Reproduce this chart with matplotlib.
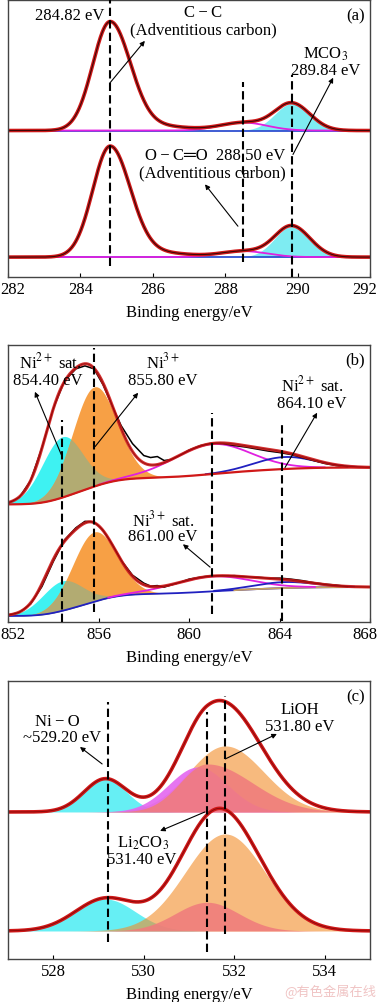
import numpy as np
import matplotlib.pyplot as plt
from matplotlib.transforms import ScaledTranslation

plt.rcParams['font.family'] = ['Liberation Serif', 'DejaVu Sans']
plt.rcParams['mathtext.fontset'] = 'stix'
plt.rcParams['font.size'] = 12

# ---- (a) C 1s : peak centre, height, left/right sigma (top / bottom spectrum)
c_names = ['C-C', 'tail', 'O-C=O', 'MCO3']
c_center = [284.82, 286.3, 288.5, 289.84]
c_amp_top = [109, 4, 8, 27]
c_amp_bot = [111, 4, 6, 31]
c_sig_l = [0.48, 0.7, 0.65, 0.47]
c_sig_r = [0.56, 0.7, 0.65, 0.50]
c_base = [147, 20]
c_marks = [284.82, 288.50, 289.84]

# ---- (b) Ni 2p3/2
ni_names = ['hidden', 'Ni2+ sat', 'Ni3+', 'Ni3+ sat', 'Ni2+ sat 2']
ni_center = [854.1, 854.4, 855.8, 861.0, 864.2]
ni_amp_top = [20, 61, 100, 30, 12]
ni_amp_bot = [15, 30, 70, 15, 6]
ni_sig_l = [0.6, 0.9, 0.95, 1.7, 1.33]
ni_sig_r = [0.6, 0.9, 1.0, 1.7, 1.33]
ni_bg_top = [118, 155]
ni_bg_bot = [6, 35]
ni_marks = [854.40, 855.80, 861.00, 864.10]

# raw (black) Ni 2p data
ni_raw_x = [852.0, 852.5, 853.0, 853.5, 854.0, 854.5, 855.0, 855.4, 855.8, 856.2,
            856.6, 857.0, 857.5, 858.0, 858.3, 858.6, 858.9, 859.2, 859.5, 860.0,
            860.5, 861.0, 861.5, 862.0, 862.5, 863.0, 863.5, 864.0, 864.5, 865.0,
            865.5, 866.0, 866.5, 867.0]
ni_raw_top = [119, 125, 142, 175, 214, 242, 254, 257, 254, 238,
              217, 197, 179, 167, 165, 166, 162, 163, 166, 172.5,
              177, 179.5, 179, 177, 175.5, 173.5, 171.5, 170, 168, 165,
              162, 159, 157, 156]
ni_raw_bot = [7, 9.6, 18, 35.5, 60.5, 82.5, 94.5, 101, 100.5, 92,
              78, 62, 47, 39, 36, 36.5, 35, 37, 39, 43,
              45, 46.5, 46, 46.5, 45.5, 45, 44, 44, 43, 41.5,
              39.5, 38, 37, 35.5]

# ---- (c) O 1s
o_names = ['Ni-O', 'extra', 'Li2CO3', 'LiOH']
o_center = [529.15, 531.2, 531.4, 531.8]
o_amp_top = [33, 45, 48, 66]
o_amp_bot = [32, 0, 28.7, 97]
o_sig_l_top = [0.47, 0.65, 0.6, 0.8]
o_sig_r_top = [0.47, 0.65, 1.0, 0.85]
o_sig_l_bot = [0.66, 0.65, 0.7, 0.88]
o_sig_r_bot = [0.66, 0.65, 0.7, 0.88]
o_in_sum = [True, False, True, True]
o_base = [147, 28]
o_marks = [529.20, 531.40, 531.80]


def peak(x, c, a, sl, sr):
    s = np.where(x < c, sl, sr)
    return a * np.exp(-(x - c) ** 2 / (2 * s ** 2))


def shirley(x, comps, lo, hi):
    tot = np.sum(comps, axis=0)
    cum = np.cumsum(tot)
    return lo + (hi - lo) * cum / cum[-1]


RED = '#d01818'
dash = (0, (4, 2))


def style(ax, lim, ticks, edge=False):
    ax.set_xlim(lim)
    ax.set_ylim(0, 278)
    ax.set_xticks(ticks)
    ax.set_yticks([])
    ax.tick_params(axis='x', direction='in', length=3, pad=3, labelsize=12)
    ax.set_xlabel('Binding energy/eV', fontsize=12, labelpad=5)
    for s in ax.spines.values():
        s.set_color('#444444')
        s.set_linewidth(1.0)
    if edge:
        labs = ax.get_xticklabels()
        labs[0].set_transform(labs[0].get_transform() +
                              ScaledTranslation(0.05, 0, fig.dpi_scale_trans))
        labs[-1].set_transform(labs[-1].get_transform() +
                               ScaledTranslation(-0.05, 0, fig.dpi_scale_trans))


def arrow(ax, xy, xytext):
    ax.annotate('', xy=xytext, xytext=xy,
                arrowprops=dict(arrowstyle='-|>', lw=0.8, color='k',
                                mutation_scale=7, shrinkA=0, shrinkB=0), zorder=10)


fig = plt.figure(figsize=(3.8, 10.03), dpi=100)
ax1 = fig.add_axes([0.021, 0.7228, 0.953, 0.2762])
ax2 = fig.add_axes([0.021, 0.3789, 0.953, 0.2762])
ax3 = fig.add_axes([0.021, 0.0429, 0.953, 0.2772])

# ================= (a)
x = np.linspace(282, 292, 800)
for amps, base in [(c_amp_top, c_base[0]), (c_amp_bot, c_base[1])]:
    comps = [peak(x, c_center[i], amps[i], c_sig_l[i], c_sig_r[i]) for i in range(4)]
    env = base + np.sum(comps, axis=0)
    ax1.fill_between(x, base, base + comps[3], color='#7eecf2', lw=0)
    ax1.plot(x, np.full_like(x, base), color='#3050d0', lw=1.3)
    ax1.plot(x, base + comps[2], color='#e020e0', lw=1.3)
    ax1.plot(x, env, color=RED, lw=2.6)
    ax1.plot(x, env, color='k', lw=0.8, alpha=0.7)
dash_a = [(11, 278), (15, 196), (0, 203)]
for e, (y0, y1) in zip(c_marks, dash_a):
    ax1.plot([e, e], [y0, y1], color='k', lw=1.5, ls=dash, zorder=8)
ax1.text(283.71, 263, '284.82 eV', ha='center', va='center')
ax1.text(287.39, 266, 'C\u2009\u2212\u2009C', ha='center', va='center')
ax1.text(287.39, 248.5, '(Adventitious carbon)', ha='center', va='center')
arrow(ax1, (284.82, 195), (285.78, 237))
ax1.text(291.6, 263, '(a)', ha='center', va='center')
ax1.text(290.76, 225, 'MCO$_3$', ha='center', va='center')
ax1.text(290.76, 208, '289.84 eV', ha='center', va='center')
arrow(ax1, (289.87, 123), (290.98, 200))
ax1.text(287.72, 122, 'O\u2009\u2212\u2009C\u2550O  288.50 eV', ha='center', va='center')
ax1.text(287.64, 105, '(Adventitious carbon)', ha='center', va='center')
arrow(ax1, (288.35, 51), (287.44, 93))
style(ax1, (282, 292), [282, 284, 286, 288, 290, 292], edge=True)

# ================= (b)
x = np.linspace(852, 868, 900)
for k, (amps, bgp, raw) in enumerate([(ni_amp_top, ni_bg_top, ni_raw_top),
                                      (ni_amp_bot, ni_bg_bot, ni_raw_bot)]):
    comps = [peak(x, ni_center[i], amps[i], ni_sig_l[i], ni_sig_r[i]) for i in range(5)]
    bg = shirley(x, comps, bgp[0], bgp[1])
    env = bg + np.sum(comps, axis=0)
    ax2.fill_between(x, bg, bg + comps[1], color='#3ef2f2', lw=0)
    ax2.fill_between(x, bg, bg + comps[2], color='#f7a045', lw=0)
    ax2.fill_between(x, bg, bg + np.minimum(comps[1], comps[2]), color='#b2ab72', lw=0)
    mag = np.where(comps[3] > 0.4, bg + comps[3], np.nan)
    blu = np.where(comps[4] > 0.4, bg + comps[4], np.nan)
    if k == 0:
        ax2.plot(x, mag, color='#e020e0', lw=1.3)
        ax2.plot(x, blu, color='#2020c0', lw=1.3)
        ax2.plot(x, bg, color=RED, lw=1.6)
    else:
        ax2.plot(x, bg, color='#2020c0', lw=1.3)
        ax2.plot(x, np.where(x > 862, bg, np.nan), color='#c8a060', lw=1.3)
        ax2.plot(x, mag, color='#e020e0', lw=1.3)
        ax2.plot(x, blu, color='#2020c0', lw=1.3)
    ax2.plot(ni_raw_x, raw, color='k', lw=1.1)
    ax2.plot(x, env, color=RED, lw=2.2, alpha=0.9)
    ax2.plot(x, env, color='#700000', lw=0.6, alpha=0.6)
dash_b = [(0, 203), (10, 275), (8, 210), (1, 200)]
for e, (y0, y1) in zip(ni_marks, dash_b):
    ax2.plot([e, e], [y0, y1], color='k', lw=1.5, ls=dash, zorder=8)
ax2.text(853.86, 261, 'Ni$^{2+}$ sat.', ha='center', va='center')
ax2.text(853.77, 243, '854.40 eV', ha='center', va='center')
arrow(ax2, (854.39, 166), (853.19, 231))
ax2.text(858.85, 261, 'Ni$^{3+}$', ha='center', va='center')
ax2.text(858.85, 243, '855.80 eV', ha='center', va='center')
arrow(ax2, (855.85, 176), (857.75, 230))
ax2.text(865.44, 238, 'Ni$^{2+}$ sat.', ha='center', va='center')
ax2.text(865.44, 220, '864.10 eV', ha='center', va='center')
arrow(ax2, (864.24, 155), (865.66, 210))
ax2.text(867.34, 263, '(b)', ha='center', va='center')
ax2.text(858.85, 103, 'Ni$^{3+}$ sat.', ha='center', va='center')
ax2.text(858.85, 86, '861.00 eV', ha='center', va='center')
arrow(ax2, (860.93, 55), (859.73, 78))
style(ax2, (852, 868), [852, 856, 860, 864, 868], edge=True)

# ================= (c)
x = np.linspace(527, 535, 800)
for amps, sl, sr, base in [(o_amp_top, o_sig_l_top, o_sig_r_top, o_base[0]),
                           (o_amp_bot, o_sig_l_bot, o_sig_r_bot, o_base[1])]:
    comps = [peak(x, o_center[i], amps[i], sl[i], sr[i]) for i in range(4)]
    env = base + np.sum([c for c, s in zip(comps, o_in_sum) if s], axis=0)
    ax3.fill_between(x, base, base + comps[0], color='#00e5ee', alpha=0.6, lw=0)
    ax3.fill_between(x, base, base + comps[3], color='#f28c28', alpha=0.6, lw=0)
    if amps[1] > 0:
        ax3.fill_between(x, base, base + comps[1], color='#e466f0', alpha=0.9, lw=0)
    ax3.fill_between(x, base, base + comps[2], color='#f07c7c', alpha=0.88, lw=0)
    ax3.plot(x, env, color=RED, lw=2.6)
    ax3.plot(x, env, color='#600000', lw=0.7, alpha=0.6)
dash_c = [(17, 257), (7, 247), (25, 263)]
for e, (y0, y1) in zip(o_marks, dash_c):
    ax3.plot([e, e], [y0, y1], color='k', lw=1.5, ls=dash, zorder=8)
ax3.text(534.67, 263, '(c)', ha='center', va='center')
ax3.text(528.08, 238, 'Ni\u2009\u2212\u2009O', ha='center', va='center')
ax3.text(528.19, 222, '~529.20 eV', ha='center', va='center')
arrow(ax3, (529.08, 195), (528.59, 212))
ax3.text(533.45, 250, 'LiOH', ha='center', va='center')
ax3.text(533.45, 233, '531.80 eV', ha='center', va='center')
arrow(ax3, (531.8, 200), (532.94, 225))
ax3.text(529.98, 117, 'Li$_2$CO$_3$', ha='center', va='center')
ax3.text(529.96, 100, '531.40 eV', ha='center', va='center')
arrow(ax3, (531.35, 147), (530.36, 128))
style(ax3, (527, 535), [528, 530, 532, 534])

fig.text(0.868, 0.011, '@有色金属在线', family=['Noto Sans CJK SC', 'DejaVu Sans'],
         fontsize=9.5, color='#f0c4c4', ha='center', va='center')

fig.savefig('out.png', dpi=100)
